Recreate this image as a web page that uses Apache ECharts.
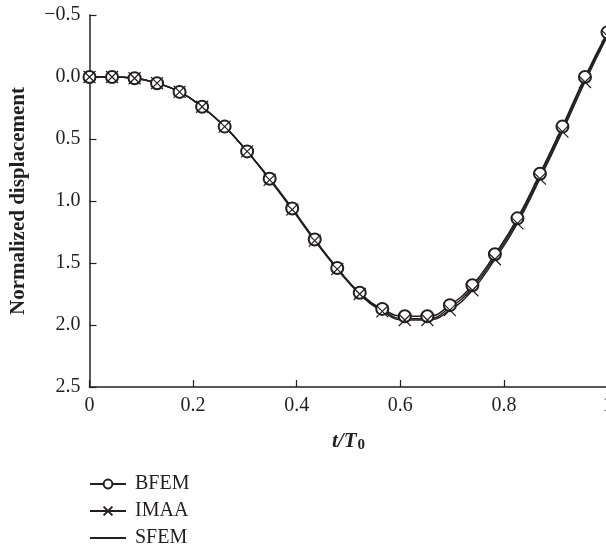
<!DOCTYPE html>
<html>
<head>
<meta charset="utf-8">
<script src="https://cdn.jsdelivr.net/npm/echarts@6/dist/echarts.min.js"></script>
<style>html,body{margin:0;padding:0;background:#fff;}#c{width:606px;height:550px;}</style>
</head>
<body>
<div id="c"></div>
<script>
var tValues = [0, 0.0435, 0.087, 0.1304, 0.1739, 0.2174, 0.2609, 0.3043, 0.3478, 0.3913, 0.4348, 0.4783, 0.5217, 0.5652, 0.6087, 0.6522, 0.6957, 0.7391, 0.7826, 0.8261, 0.8696, 0.913, 0.9565, 1.0];
var bfem = [0, 0, 0.01, 0.05, 0.12, 0.24, 0.40, 0.60, 0.82, 1.06, 1.31, 1.54, 1.74, 1.87, 1.93, 1.93, 1.84, 1.68, 1.43, 1.14, 0.78, 0.40, 0.0, -0.36];
var imaa = [0, 0, 0.01, 0.05, 0.12, 0.24, 0.40, 0.60, 0.83, 1.07, 1.32, 1.55, 1.75, 1.89, 1.96, 1.96, 1.88, 1.72, 1.47, 1.18, 0.82, 0.44, 0.04, -0.33];
var sfem = [0, 0, 0.01, 0.05, 0.12, 0.24, 0.40, 0.60, 0.82, 1.065, 1.315, 1.545, 1.745, 1.88, 1.95, 1.95, 1.86, 1.70, 1.45, 1.16, 0.80, 0.42, 0.02, -0.345];
var seriesNames = ['BFEM', 'IMAA', 'SFEM'];
var yTicks = [-0.5, 0, 0.5, 1, 1.5, 2, 2.5];
var yTickLabels = ['\u22120.5', '0.0', '0.5', '1.0', '1.5', '2.0', '2.5'];
var xTicks = [0, 0.2, 0.4, 0.6, 0.8, 1];
var xTickLabels = ['0', '0.2', '0.4', '0.6', '0.8', '1'];

function pairs(ys) { return tValues.map(function (t, i) { return [t, ys[i]]; }); }
function lookup(ticks, labels, v) {
  for (var i = 0; i < ticks.length; i++) if (Math.abs(ticks[i] - v) < 1e-6) return labels[i];
  return '';
}
var ink = '#231f20';
var serif = '"Liberation Serif", "DejaVu Serif", serif';
var crossPath = 'path://M0,0L10,10M10,0L0,10';
var legendTops = [474, 501, 528];

function makeLegend(i) {
  var item = {name: seriesNames[i]};
  if (i === 2) item.itemStyle = {opacity: 0};
  return {
    orient: 'vertical', left: 89, top: legendTops[i], padding: 0,
    itemWidth: 36, itemHeight: 11,
    textStyle: {fontFamily: serif, fontSize: 20, color: ink, padding: [0, 0, 0, 4]},
    selectedMode: false,
    data: [item]
  };
}

var chart = echarts.init(document.getElementById('c'), null, {renderer: 'canvas'});
chart.setOption({
  animation: false,
  backgroundColor: '#fff',
  grid: {left: 89.5, top: 15, width: 518, height: 372, outerBoundsMode: 'none', containLabel: false},
  xAxis: {
    type: 'value', min: 0, max: 1, interval: 0.2,
    name: '{i|t/T}{s|0}', nameLocation: 'middle', nameGap: 43,
    nameTextStyle: {
      rich: {
        i: {fontFamily: serif, fontStyle: 'italic', fontWeight: 'bold', fontSize: 21, color: ink},
        s: {fontFamily: serif, fontWeight: 'bold', fontSize: 15, color: ink, padding: [8, 0, 0, 1]}
      }
    },
    axisLine: {onZero: false, lineStyle: {color: ink, width: 1.5}},
    axisTick: {inside: true, length: 7, lineStyle: {color: ink, width: 1.2}},
    axisLabel: {fontFamily: serif, fontSize: 20, color: ink, margin: 9, hideOverlap: false,
      formatter: function (v) { return lookup(xTicks, xTickLabels, v); }},
    splitLine: {show: false}
  },
  yAxis: {
    type: 'value', inverse: true, min: -0.5, max: 2.5, interval: 0.5,
    name: 'Normalized displacement', nameLocation: 'middle', nameGap: 60,
    nameTextStyle: {fontFamily: serif, fontWeight: 'bold', fontSize: 21, color: ink},
    axisLine: {onZero: false, lineStyle: {color: ink, width: 1.5}},
    axisTick: {inside: true, length: 7, lineStyle: {color: ink, width: 1.2}},
    axisLabel: {fontFamily: serif, fontSize: 20, color: ink, margin: 9,
      formatter: function (v) { return lookup(yTicks, yTickLabels, v); }},
    splitLine: {show: false}
  },
  legend: [makeLegend(0), makeLegend(1), makeLegend(2)],
  series: [
    {name: seriesNames[0], type: 'line', smooth: true, data: pairs(bfem),
      symbol: 'emptyCircle', symbolSize: 12,
      lineStyle: {color: ink, width: 1.6},
      itemStyle: {color: ink, borderColor: ink, borderWidth: 1.2}},
    {name: seriesNames[1], type: 'line', smooth: true, data: pairs(imaa),
      symbol: crossPath, symbolSize: 12,
      lineStyle: {color: ink, width: 1.4},
      itemStyle: {color: 'none', borderColor: ink, borderWidth: 1.2}},
    {name: seriesNames[2], type: 'line', smooth: true, data: pairs(sfem),
      symbol: 'circle', showSymbol: false,
      lineStyle: {color: ink, width: 1.4},
      itemStyle: {color: ink}}
  ]
});
</script>
</body>
</html>
